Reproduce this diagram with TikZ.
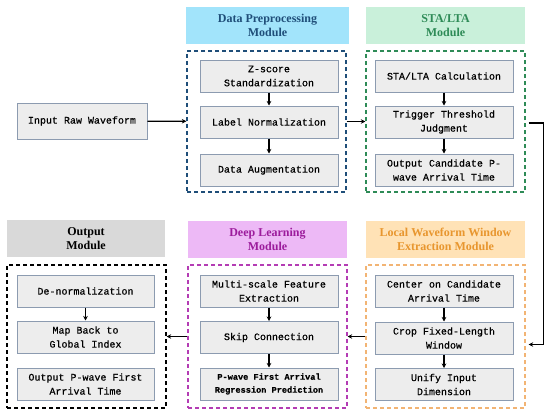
\documentclass[tikz,border=0pt]{standalone}
\usepackage{fontspec}
\setmainfont{Liberation Serif}
\newfontfamily\stepfont[FakeBold=0.5]{Liberation Mono}
\usepackage{tikz}
\usetikzlibrary{positioning, arrows.meta, calc}
\definecolor{boxfill}{HTML}{EDEDED}
\definecolor{boxline}{HTML}{8C9BB0}
\definecolor{preFill}{HTML}{A2E4FB}
\definecolor{preText}{HTML}{1F4E79}
\definecolor{staFill}{HTML}{C9F0DA}
\definecolor{staText}{HTML}{2E8B57}
\definecolor{outFill}{HTML}{D9D9D9}
\definecolor{dlFill}{HTML}{EDB9F6}
\definecolor{dlText}{HTML}{9C1C9C}
\definecolor{dlLine}{HTML}{B43CB4}
\definecolor{locFill}{HTML}{FFE2B6}
\definecolor{locText}{HTML}{E8962E}
\definecolor{locLine}{HTML}{F2B474}

\begin{document}
\begin{tikzpicture}[x=1pt, y=-1pt, >={Stealth[length=4.5pt, width=4.5pt]},
  stepbox/.style={draw=boxline, fill=boxfill, line width=1pt, minimum width=138pt,
    minimum height=32pt, inner sep=0pt, align=center,
    font=\stepfont\fontsize{10}{14}\selectfont},
  headbox/.style={minimum width=159pt, minimum height=37pt, inner sep=0pt, align=center,
    font=\rmfamily\bfseries\fontsize{12}{14}\selectfont},
  modbox/.style={dashed, dash pattern=on 4pt off 3pt, line width=1.3pt,
    minimum width=159pt, minimum height=141pt, inner sep=0pt},
  link/.style={->, line width=1.3pt}]
\useasboundingbox (0,0) rectangle (550,415);
% input
\node[stepbox, minimum width=130pt, minimum height=36pt] (inRaw) at (82,121) {Input Raw Waveform};
% data preprocessing module
\node[headbox, fill=preFill, text=preText, minimum width=163pt] (preHead) at (267.5,25.5) {Data Preprocessing\\Module};
\node[modbox, draw=preText] (preBox) at (266.5,121.5) {};
\node[stepbox] (zscore) at (269,76) {Z-score\\Standardization};
\node[stepbox] (labnorm) at (269,122) {Label Normalization};
\node[stepbox] (augment) at (269,170) {Data Augmentation};
% STA/LTA module
\node[headbox, fill=staFill, text=staText] (staHead) at (445.5,25.5) {STA/LTA\\Module};
\node[modbox, draw=staText] (staBox) at (445.5,121.5) {};
\node[stepbox] (stacalc) at (444,76) {STA/LTA Calculation};
\node[stepbox] (trigger) at (444,122) {Trigger Threshold\\Judgment};
\node[stepbox] (candidate) at (444,170) {Output Candidate P-\\wave Arrival Time};
% local waveform window module
\node[headbox, fill=locFill, text=locText] (locHead) at (445.5,239.5) {Local Waveform Window\\Extraction Module};
\node[modbox, draw=locLine, minimum height=143pt] (locBox) at (445.5,336.5) {};
\node[stepbox] (center) at (444,291) {Center on Candidate\\Arrival Time};
\node[stepbox] (crop) at (444,338) {Crop Fixed-Length\\Window};
\node[stepbox] (unify) at (444,384.5) {Unify Input\\Dimension};
% deep learning module
\node[headbox, fill=dlFill, text=dlText] (dlHead) at (267.5,239.5) {Deep Learning\\Module};
\node[modbox, draw=dlLine, minimum height=143pt] (dlBox) at (267.5,336.5) {};
\node[stepbox] (multiscale) at (269,291) {Multi-scale Feature\\Extraction};
\node[stepbox] (skip) at (269,337.5) {Skip Connection};
\node[stepbox, font=\stepfont\bfseries\fontsize{8.6}{13}\selectfont] (regress) at (269,384) {P-wave First Arrival\\Regression Prediction};
% output module
\node[headbox, fill=outFill, minimum width=158pt] (outHead) at (86,238.5) {Output\\Module};
\node[modbox, draw=black, minimum height=143pt] (outBox) at (86.5,336.5) {};
\node[stepbox, minimum width=137pt] (denorm) at (85.5,291) {De-normalization};
\node[stepbox, minimum width=137pt] (mapback) at (85.5,337) {Map Back to\\Global Index};
\node[stepbox, minimum width=137pt] (outtime) at (85.5,384) {Output P-wave First\\Arrival Time};
% arrows inside modules
\draw[link] (zscore) -- (labnorm);
\draw[link] (labnorm) -- (augment);
\draw[link] (stacalc) -- (trigger);
\draw[link] (trigger) -- (candidate);
\draw[link] (center) -- (crop);
\draw[link] (crop) -- (unify);
\draw[link] (multiscale) -- (skip);
\draw[link] (skip) -- (regress);
\draw[link] (denorm) -- (mapback);
% arrows between modules
\draw[link] (inRaw) -- (preBox);
\draw[link] (preBox) -- (staBox);
\draw[link, shorten <=3pt, shorten >=3pt] ([yshift=-1.5pt]staBox.east) -- ++(18,0) |- ([yshift=-8pt]locBox.east);
\draw[link] (locBox) -- (dlBox);
\draw[link] (dlBox) -- (outBox);
\end{tikzpicture}
\end{document}
